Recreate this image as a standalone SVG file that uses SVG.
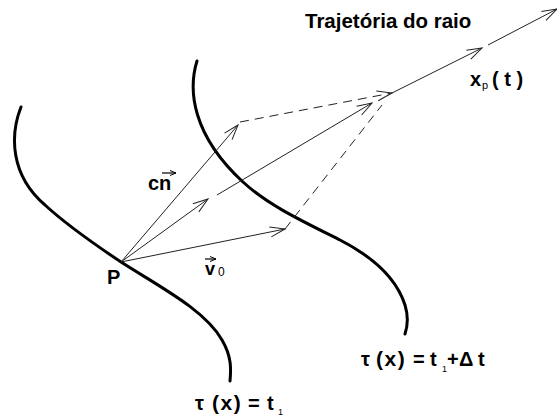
<svg xmlns="http://www.w3.org/2000/svg" width="557" height="416" viewBox="0 0 557 416">
<defs>
<marker id="ah" markerUnits="userSpaceOnUse" markerWidth="18" markerHeight="12" refX="15" refY="5" orient="auto" overflow="visible">
<path d="M0,0 L15,5 L0,10" fill="none" stroke="#222" stroke-width="1"/>
</marker>
<marker id="ahs" markerUnits="userSpaceOnUse" markerWidth="8" markerHeight="6" refX="6" refY="2.5" orient="auto" overflow="visible">
<path d="M0,0 L6,2.5 L0,5" fill="none" stroke="#000" stroke-width="1"/>
</marker>
<style>
.wave{fill:none;stroke:#000;stroke-width:3;stroke-linecap:round}
.vec{fill:none;stroke:#222;stroke-width:1}
.dash{fill:none;stroke:#222;stroke-width:1;stroke-dasharray:9 6}
.lbl{font-family:"Liberation Sans",Arial,sans-serif;font-weight:bold;font-size:20px;fill:#000}
.sub{font-family:"Liberation Sans",Arial,sans-serif;font-size:11px;fill:#000}
.ov{fill:none;stroke:#000;stroke-width:1.2}
.px{font-size:21px;letter-spacing:1.5px}
</style>
</defs>
<rect width="557" height="416" fill="#fff"/>
<g id="wavefront1">
<path class="wave" d="M21,107 C10,135 10,175 45,205 C70,228 100,248 121,262 C160,287 205,310 222,340 C232,357 231,370 230,381"/>
</g>
<g id="wavefront2">
<path class="wave" d="M197,61 C188,90 192,135 243,182 C268,205 300,220 340,240 C375,258 397,280 405,305 C409,318 407,328 405,334"/>
</g>
<g id="connectors">
<line class="vec" x1="121" y1="262" x2="238" y2="125" marker-end="url(#ah)"/>
<line class="vec" x1="121" y1="262" x2="208" y2="199" marker-end="url(#ah)"/>
<line class="vec" x1="121" y1="262" x2="285" y2="229" marker-end="url(#ah)"/>
<line class="vec" x1="217" y1="195" x2="372" y2="103" marker-end="url(#ah)"/>
<line class="dash" x1="240" y1="122" x2="392" y2="93" marker-end="url(#ah)"/>
<line class="dash" x1="285" y1="229" x2="382" y2="105"/>
<line class="vec" x1="392" y1="93" x2="482" y2="48" marker-end="url(#ah)"/>
<line class="vec" x1="488" y1="45" x2="557" y2="9" marker-end="url(#ah)"/>
</g>
<g id="label-title"><text class="lbl" x="305" y="28" style="font-size:20.5px">Trajetória do raio</text></g>
<g id="label-xp">
<text class="lbl" x="470" y="86">x</text>
<text class="sub" x="482" y="89">p</text>
<text class="lbl" x="492" y="86">( t )</text>
</g>
<g id="label-cn">
<text class="lbl" x="148" y="190">cn</text>
<line class="ov" x1="162" y1="173" x2="176" y2="173" marker-end="url(#ahs)"/>
</g>
<g id="label-v0">
<text class="lbl" x="205" y="275" style="font-size:18px">v</text>
<line class="ov" x1="205" y1="259" x2="216" y2="259" marker-end="url(#ahs)"/>
<text class="sub" x="218" y="276" style="font-size:12px">0</text>
</g>
<g id="label-P"><text class="lbl" x="107" y="284">P</text></g>
<g id="label-tau2">
<text class="lbl" y="366"><tspan x="361">τ</tspan><tspan x="376" class="px">(x)</tspan><tspan x="413">=</tspan><tspan x="430">t</tspan></text>
<text class="sub" x="442" y="372" style="font-size:9px">1</text>
<text class="lbl" y="366"><tspan x="447">+</tspan><tspan x="459">Δ</tspan><tspan x="478">t</tspan></text>
</g>
<g id="label-tau1">
<text class="lbl" y="410"><tspan x="195">τ</tspan><tspan x="212" class="px">(x)</tspan><tspan x="248">=</tspan><tspan x="267">t</tspan></text>
<text class="sub" x="278" y="415" style="font-size:9px">1</text>
</g>
</svg>
